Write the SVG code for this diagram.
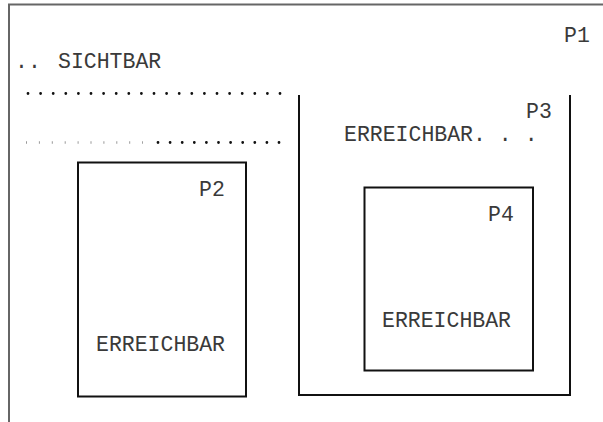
<svg xmlns="http://www.w3.org/2000/svg" width="603" height="422" viewBox="0 0 603 422">
<style>
text{font-family:"Liberation Mono","Courier New",monospace;font-size:21.5px;fill:#3a3a3a}
.box{fill:none;stroke:#111;stroke-width:2}
.frame{fill:none;stroke:#666;stroke-width:2}
.dots{stroke:#111;stroke-width:2.8;stroke-linecap:round}
</style>
<rect width="603" height="422" fill="#fff"/>
<g id="P1">
<path class="frame" d="M9,422 V4.5 H603"/>
<text x="564" y="42">P1</text>
<text x="15" y="68">.. <tspan x="58">SICHTBAR</tspan></text>
<line class="dots" x1="28" y1="93.5" x2="281" y2="93.5" stroke-dasharray="0 12.6"/>
<line x1="26" y1="142.5" x2="143" y2="142.5" stroke="#999" stroke-width="2.5" stroke-dasharray="1 11.9"/>
<line class="dots" x1="158" y1="142.5" x2="281" y2="142.5" stroke-dasharray="0 12.1"/>
</g>
<g id="P2">
<rect class="box" x="78" y="162.5" width="168" height="234"/>
<text x="199" y="196">P2</text>
<text x="96" y="351">ERREICHBAR</text>
</g>
<g id="P3">
<path class="box" d="M299,95 V395 H570 V95" stroke-width="1.6"/>
<text x="526" y="118">P3</text>
<text x="344" y="141">ERREICHBAR. . .</text>
</g>
<g id="P4">
<rect class="box" x="364.5" y="187.5" width="168.5" height="183" stroke-width="1.6"/>
<text x="488" y="221">P4</text>
<text x="382" y="327">ERREICHBAR</text>
</g>
<g id="connectors"></g>
</svg>
